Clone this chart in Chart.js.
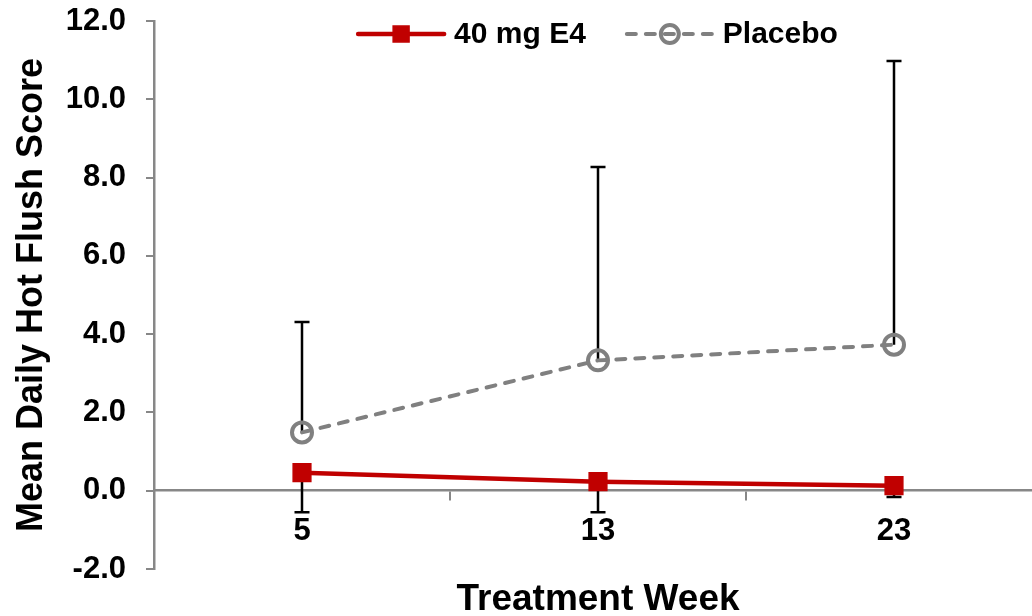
<!DOCTYPE html>
<html>
<head>
<meta charset="utf-8">
<title>Mean Daily Hot Flush Score</title>
<script src="https://cdn.jsdelivr.net/npm/chart.js@4.4.0/dist/chart.umd.min.js"></script>
<style>
  html, body { margin: 0; padding: 0; background: #ffffff; overflow: hidden; }
  /* the plot runs a little past the right edge of the window */
  #wrap { position: relative; width: 1056px; height: 616px; }
</style>
</head>
<body>
<div id="wrap"><canvas id="chart"></canvas></div>
<script>
// Treatment weeks on the x axis
const weeks = ['5', '13', '23'];

// 40 mg E4: mean score and standard deviation (whisker drawn downward)
const e4Mean = [0.46, 0.23, 0.13];
const e4SD = [1.01, 0.78, 0.29];

// Placebo: mean score and standard deviation (whisker drawn upward)
const placeboMean = [1.49, 3.33, 3.73];
const placeboSD = [2.82, 4.94, 7.25];

// Y axis tick values
const yTicks = [-2, 0, 2, 4, 6, 8, 10, 12];

const FONT = '"Liberation Sans", Arial, Helvetica, sans-serif';
const AXIS_GREY = '#878787';

// One-sided error bars, drawn under the series markers
const errorBars = {
  id: 'errorBars',
  beforeDatasetsDraw(chart, args, opts) {
    const { ctx } = chart;
    const yScale = chart.scales.y;
    ctx.save();
    ctx.strokeStyle = opts.color;
    ctx.lineWidth = opts.width;
    ctx.lineCap = 'butt';
    chart.data.datasets.forEach((ds, i) => {
      const meta = chart.getDatasetMeta(i);
      if (meta.hidden || !ds.errorSD) return;
      meta.data.forEach((pt, j) => {
        const v = ds.data[j];
        const end = v + ds.errorDir * ds.errorSD[j];
        const x = pt.x;
        const y0 = yScale.getPixelForValue(v);
        const y1 = yScale.getPixelForValue(end);
        ctx.beginPath();
        ctx.moveTo(x, y0);
        ctx.lineTo(x, y1);
        ctx.moveTo(x - opts.cap, y1);
        ctx.lineTo(x + opts.cap, y1);
        ctx.stroke();
      });
    });
    ctx.restore();
  }
};

// Legend row at the top of the plot: line sample with marker, then label
const lineLegend = {
  id: 'lineLegend',
  afterDraw(chart, args, opts) {
    const { ctx, chartArea } = chart;
    ctx.save();
    ctx.font = opts.font;
    const items = chart.data.datasets.map(ds => ({
      ds,
      w: opts.lineLength + opts.textGap + ctx.measureText(ds.label).width
    }));
    const total = items.reduce((s, it) => s + it.w, 0) + opts.itemGap * (items.length - 1);
    let x = (chartArea.left + chartArea.right) / 2 - total / 2;
    const y = chartArea.top + opts.offsetY;
    items.forEach(({ ds, w }) => {
      const L = opts.lineLength;
      ctx.strokeStyle = ds.borderColor;
      ctx.lineWidth = ds.borderWidth;
      ctx.lineCap = ds.borderCapStyle || 'butt';
      ctx.setLineDash(ds.borderDash || []);
      ctx.beginPath();
      ctx.moveTo(x, y);
      ctx.lineTo(x + L, y);
      ctx.stroke();
      ctx.setLineDash([]);
      ctx.lineCap = 'butt';
      const cx = x + L / 2;
      const r = ds.pointRadius * opts.markerScale;
      if (ds.pointStyle === 'rect') {
        const h = Math.SQRT1_2 * r;
        ctx.fillStyle = ds.pointBackgroundColor;
        ctx.strokeStyle = ds.pointBorderColor;
        ctx.lineWidth = ds.pointBorderWidth;
        ctx.beginPath();
        ctx.rect(cx - h, y - h, 2 * h, 2 * h);
        ctx.fill();
        ctx.stroke();
      } else {
        ctx.strokeStyle = ds.pointBorderColor;
        ctx.lineWidth = ds.pointBorderWidth;
        ctx.beginPath();
        ctx.arc(cx, y, r, 0, Math.PI * 2);
        ctx.stroke();
      }
      ctx.fillStyle = '#000000';
      ctx.textAlign = 'left';
      ctx.textBaseline = 'middle';
      ctx.fillText(ds.label, x + L + opts.textGap, y + 1);
      x += w + opts.itemGap;
    });
    ctx.restore();
  }
};

new Chart(document.getElementById('chart'), {
  type: 'line',
  data: {
    labels: weeks,
    datasets: [
      {
        label: '40 mg E4',
        data: e4Mean,
        errorSD: e4SD,
        errorDir: -1,
        xAxisID: 'x',
        yAxisID: 'y',
        borderColor: '#C00000',
        borderWidth: 4.5,
        borderCapStyle: 'round',
        pointStyle: 'rect',
        pointRadius: 12.5,
        pointHoverRadius: 12.5,
        pointBackgroundColor: '#C00000',
        pointBorderColor: '#C00000',
        pointBorderWidth: 1.5,
        tension: 0,
        fill: false,
        order: 1
      },
      {
        label: 'Placebo',
        data: placeboMean,
        errorSD: placeboSD,
        errorDir: 1,
        xAxisID: 'x',
        yAxisID: 'y',
        borderColor: '#808080',
        borderWidth: 4,
        borderDash: [9, 10],
        borderCapStyle: 'round',
        pointStyle: 'circle',
        pointRadius: 10,
        pointHoverRadius: 10,
        pointBackgroundColor: 'rgba(255,255,255,0)',
        pointBorderColor: '#808080',
        pointBorderWidth: 4,
        tension: 0,
        fill: false,
        order: 0
      }
    ]
  },
  options: {
    responsive: true,
    maintainAspectRatio: false,
    animation: false,
    events: [],
    layout: { padding: { top: 21, left: 0, right: 0, bottom: 0 } },
    scales: {
      x: {
        type: 'category',
        position: { y: 0 },
        offset: true,
        grid: {
          offset: true,
          drawOnChartArea: false,
          drawTicks: true,
          tickLength: 9,
          color: AXIS_GREY,
          lineWidth: 2
        },
        border: { display: true, color: AXIS_GREY, width: 2.5 },
        ticks: {
          color: '#000000',
          padding: 13,
          maxRotation: 0,
          autoSkip: false,
          font: { family: FONT, size: 31, weight: 'bold' }
        },
        afterFit(scale) { scale.paddingLeft = 0; scale.paddingRight = 0; }
      },
      xTitle: {
        type: 'category',
        position: 'bottom',
        offset: true,
        grid: { display: false, drawTicks: false },
        border: { display: false },
        ticks: { display: false },
        title: {
          display: true,
          text: 'Treatment Week',
          color: '#000000',
          font: { family: FONT, size: 37, weight: 'bold', lineHeight: 0.9 },
          padding: { top: 0, bottom: 0 }
        },
        afterFit(scale) { scale.height = 47; scale.paddingLeft = 0; scale.paddingRight = 0; }
      },
      y: {
        type: 'linear',
        position: 'left',
        min: yTicks[0],
        max: yTicks[yTicks.length - 1],
        afterBuildTicks(scale) { scale.ticks = yTicks.map(v => ({ value: v })); },
        afterFit(scale) { scale.width = 154; scale.paddingTop = 0; scale.paddingBottom = 0; },
        grid: {
          drawOnChartArea: false,
          drawTicks: true,
          tickLength: 8,
          color: AXIS_GREY,
          lineWidth: 2
        },
        border: { display: true, color: AXIS_GREY, width: 2.5 },
        ticks: {
          color: '#000000',
          padding: 20,
          font: { family: FONT, size: 31, weight: 'bold' },
          callback: (v) => Number(v).toFixed(1)
        },
        title: {
          display: true,
          text: 'Mean Daily Hot Flush Score',
          color: '#000000',
          font: { family: FONT, size: 36, weight: 'bold', lineHeight: 1.2 },
          padding: { top: 10, bottom: 0 }
        }
      }
    },
    plugins: {
      legend: { display: false },
      tooltip: { enabled: false },
      errorBars: { color: '#000000', width: 2.5, cap: 7.5 },
      lineLegend: {
        font: 'bold 30px ' + FONT,
        lineLength: 86,
        textGap: 10,
        itemGap: 41,
        offsetY: 13,
        markerScale: 0.9
      }
    }
  },
  plugins: [errorBars, lineLegend]
});
</script>
</body>
</html>
